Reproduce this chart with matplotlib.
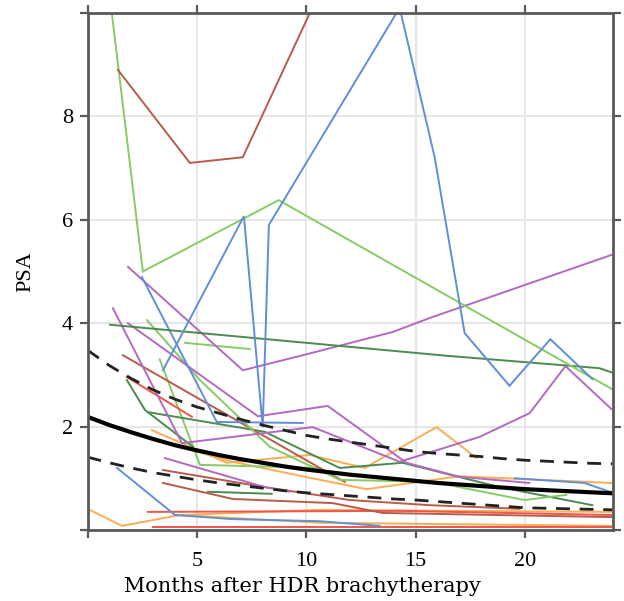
import matplotlib
matplotlib.use("Agg")
import matplotlib.pyplot as plt

plt.rcParams["font.family"] = ["Liberation Serif", "DejaVu Serif"]

# Population trend (solid) with its lower / upper bounds (dashed)
trend_months = list(range(0, 25))
trend_psa = [2.19, 2.03, 1.89, 1.76, 1.64, 1.54, 1.45, 1.37, 1.30, 1.23, 1.17, 1.12, 1.07,
             1.03, 0.99, 0.95, 0.91, 0.88, 0.85, 0.82, 0.79, 0.77, 0.75, 0.73, 0.71]
upper_psa = [3.48, 3.18, 2.93, 2.71, 2.53, 2.38, 2.26, 2.14, 2.03, 1.93, 1.83, 1.76, 1.70,
             1.64, 1.58, 1.52, 1.48, 1.45, 1.42, 1.38, 1.35, 1.33, 1.31, 1.29, 1.28]
lower_psa = [1.41, 1.30, 1.20, 1.11, 1.04, 0.97, 0.91, 0.86, 0.81, 0.76, 0.72, 0.69, 0.66,
             0.63, 0.60, 0.58, 0.55, 0.52, 0.49, 0.46, 0.43, 0.42, 0.41, 0.40, 0.39]

# Individual patient PSA follow-up (months, PSA)
b1_t = [3.45, 7.15, 8.01, 8.29, 14.27, 15.87, 17.24, 19.29, 21.16, 23.08]
b1_psa = [3.09, 6.07, 1.99, 5.90, 10.1, 7.21, 3.81, 2.79, 3.69, 2.92]
b2_t = [2.49, 5.91, 9.84]
b2_psa = [4.89, 2.09, 2.07]
b3_t = [1.35, 4.00, 6.64, 10.62, 13.36]
b3_psa = [1.20, 0.29, 0.21, 0.17, 0.08]
b4_t = [19.52, 22.72, 23.95]
b4_psa = [1.00, 0.91, 0.73]

g1_t = [0.8, 2.53, 8.74, 24.0]
g1_psa = [11.1, 5.00, 6.38, 2.72]
g2_t = [2.72, 5.14, 8.33, 11.53, 15.78, 19.98, 21.89]
g2_psa = [4.06, 2.90, 1.61, 0.97, 0.93, 0.58, 0.68]
g3_t = [3.30, 5.14, 10.62]
g3_psa = [3.30, 1.26, 1.20]
g4_t = [4.46, 7.42]
g4_psa = [3.62, 3.50]

d1_t = [1.03, 16.42, 23.40, 23.95]
d1_psa = [3.97, 3.37, 3.13, 3.05]
d2_t = [1.80, 2.63, 4.82]
d2_psa = [2.90, 2.32, 1.61]
d3_t = [2.76, 8.10, 11.53, 14.40, 18.84, 23.08]
d3_psa = [2.28, 1.90, 1.20, 1.30, 0.83, 0.48]
d4_t = [5.50, 8.42]
d4_psa = [0.74, 0.70]

p1_t = [1.16, 4.32, 10.30, 14.27, 17.92, 20.21, 21.85, 23.95]
p1_psa = [4.29, 1.68, 1.99, 1.32, 1.80, 2.26, 3.17, 2.34]
p2_t = [1.85, 7.10, 9.84, 13.95, 15.64, 23.95]
p2_psa = [5.09, 3.09, 3.38, 3.83, 4.10, 5.32]
p3_t = [1.85, 7.79, 10.98, 14.58, 17.00, 20.20]
p3_psa = [4.00, 2.20, 2.40, 1.30, 1.03, 0.91]
p4_t = [3.54, 8.10, 9.25]
p4_psa = [1.39, 0.83, 0.74]

r1_t = [1.39, 4.68, 7.10, 10.80]
r1_psa = [8.90, 7.10, 7.21, 10.58]
r2_t = [1.62, 10.62, 11.76]
r2_psa = [3.38, 1.20, 0.93]
r3_t = [3.45, 8.10, 11.99, 15.64, 19.75]
r3_psa = [1.16, 0.83, 0.58, 0.48, 0.41]
r4_t = [3.45, 6.64, 11.21, 13.49, 23.95]
r4_psa = [0.91, 0.60, 0.52, 0.33, 0.25]

e1_t = [1.80, 4.77]
e1_psa = [2.96, 2.19]
e2_t = [2.76, 14.27, 23.95]
e2_psa = [0.35, 0.37, 0.29]
e3_t = [2.99, 23.95]
e3_psa = [0.06, 0.06]

o1_t = [0.0, 1.58, 4.22, 10.62, 23.95]
o1_psa = [0.41, 0.08, 0.29, 0.39, 0.35]
o2_t = [4.22, 10.62, 23.95]
o2_psa = [0.29, 0.14, 0.08]
o3_t = [2.95, 6.37, 10.16, 12.67, 15.96, 17.79]
o3_psa = [1.93, 1.30, 1.45, 1.20, 1.99, 1.39]
o4_t = [3.20, 6.64, 10.16, 12.76, 17.00, 23.95]
o4_psa = [1.73, 1.32, 1.01, 0.79, 1.04, 0.91]

BLUE = "#5f8fd6"
LGREEN = "#86cb63"
DGREEN = "#4d8a4d"
PURPLE = "#b369c2"
BROWN = "#b95b4b"
RED = "#f0544a"
ORANGE = "#fbad55"

patients = [
    (o1_t, o1_psa, ORANGE), (o2_t, o2_psa, ORANGE), (e3_t, e3_psa, RED),
    (e2_t, e2_psa, RED), (r4_t, r4_psa, BROWN), (r3_t, r3_psa, BROWN),
    (b3_t, b3_psa, BLUE), (d4_t, d4_psa, DGREEN), (p4_t, p4_psa, PURPLE),
    (o4_t, o4_psa, ORANGE), (o3_t, o3_psa, ORANGE), (g3_t, g3_psa, LGREEN),
    (d3_t, d3_psa, DGREEN), (d2_t, d2_psa, DGREEN), (e1_t, e1_psa, RED),
    (r2_t, r2_psa, BROWN), (g2_t, g2_psa, LGREEN), (g4_t, g4_psa, LGREEN),
    (p3_t, p3_psa, PURPLE), (p1_t, p1_psa, PURPLE), (p2_t, p2_psa, PURPLE),
    (b2_t, b2_psa, BLUE), (b4_t, b4_psa, BLUE), (d1_t, d1_psa, DGREEN),
    (g1_t, g1_psa, LGREEN), (r1_t, r1_psa, BROWN), (b1_t, b1_psa, BLUE),
]

fig = plt.figure(figsize=(6.24, 6.01), dpi=100)
ax = fig.add_axes([87.5 / 624, 1 - 530 / 601, 525 / 624, 517 / 601])

for t, psa, col in patients:
    ax.plot(t, psa, color=col, lw=1.4, solid_joinstyle="miter")

ax.plot(trend_months, upper_psa, color="#222222", lw=2.0, ls=(0, (5, 3.5)))
ax.plot(trend_months, lower_psa, color="#222222", lw=2.0, ls=(0, (5, 3.5)))
ax.plot(trend_months, trend_psa, color="black", lw=3.0)

ax.set_xlim(0, 24)
ax.set_ylim(0, 10)
ax.set_xticks([0, 5, 10, 15, 20])
ax.set_xticklabels(["", "5", "10", "15", "20"])
ax.set_yticks([0, 2, 4, 6, 8, 10])
ax.set_yticklabels(["", "2", "4", "6", "8", ""])

ax.grid(True, color="#e4e4e4", lw=1.3)
ax.set_axisbelow(True)

frame = "#5a5a5a"
for s in ax.spines.values():
    s.set_color(frame)
    s.set_linewidth(2.0)
ax.tick_params(direction="out", length=5.5, width=1.6, color=frame,
               top=True, right=True, labelsize=16, labelcolor="black")
ax.tick_params(axis="x", pad=10)
ax.tick_params(axis="y", pad=5)

ax.set_ylabel("PSA", fontsize=16, labelpad=19)
fig.text(302 / 624, 1 - 592 / 601, "Months after HDR brachytherapy",
         ha="center", va="baseline", fontsize=15, family="DejaVu Serif")

fig.savefig("out.png", dpi=100)
